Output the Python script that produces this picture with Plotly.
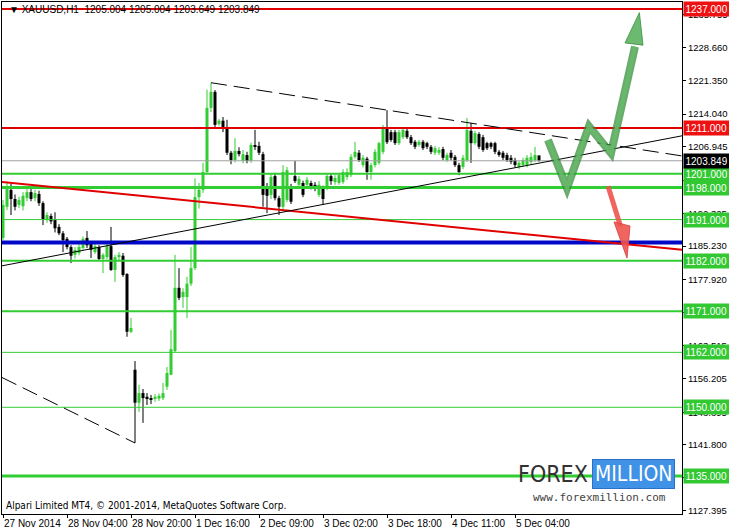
import plotly.graph_objects as go

# ---------------- data (XAUUSD H1) ----------------
opens = [1187.0, 1193.8, 1197.5, 1195.5, 1194.2, 1193.9, 1195.7, 1197.0, 1195.7, 1196.6,
         1194.6, 1190.9, 1191.8, 1190.9, 1189.4, 1188.0, 1186.8, 1185.0, 1183.3, 1183.7,
         1184.8, 1187.0, 1185.7, 1183.9, 1185.0, 1182.4, 1182.8, 1185.2, 1180.0, 1182.8,
         1183.1, 1179.1, 1166.5, 1158.2, 1151.0, 1153.1, 1152.3, 1152.0, 1151.8, 1151.9,
         1152.0, 1154.5, 1157.1, 1162.3, 1176.1, 1174.1, 1174.1, 1177.0, 1180.4, 1195.9,
         1197.5, 1201.4, 1215.4, 1218.9, 1211.9, 1212.6, 1211.0, 1205.6, 1204.0, 1206.0,
         1203.8, 1205.1, 1203.8, 1207.3, 1207.1, 1205.3, 1198.1, 1196.4, 1200.5, 1195.7,
         1193.8, 1195.3, 1198.1, 1200.5, 1198.6, 1199.0, 1198.6, 1199.0, 1198.6, 1196.4,
         1197.9, 1197.9, 1200.5, 1199.2, 1199.0, 1199.2, 1200.3, 1200.7, 1204.7, 1205.6,
         1202.9, 1204.3, 1201.4, 1202.9, 1203.4, 1205.8, 1210.8, 1210.1, 1210.1, 1207.7,
         1209.0, 1210.4, 1209.0, 1208.0, 1207.3, 1208.0, 1207.7, 1206.9, 1205.6, 1205.6,
         1206.4, 1204.0, 1205.6, 1204.7, 1202.9, 1202.5, 1204.0, 1210.4, 1207.7, 1209.7,
         1209.0, 1207.7, 1207.7, 1207.7, 1205.8, 1205.6, 1205.1, 1204.5, 1204.0, 1202.5,
         1202.9, 1202.9, 1203.6, 1204.0, 1205.004]
highs = [1195.3, 1199.0, 1198.8, 1196.5, 1196.0, 1197.0, 1197.8, 1197.8, 1197.5, 1197.3,
         1195.0, 1192.6, 1192.3, 1192.6, 1190.0, 1188.5, 1187.2, 1185.4, 1185.0, 1185.6,
         1187.3, 1188.5, 1186.1, 1185.8, 1185.4, 1183.7, 1186.0, 1189.4, 1183.3, 1183.9,
         1183.7, 1179.3, 1169.5, 1160.1, 1154.9, 1154.0, 1153.1, 1152.7, 1152.9, 1153.0,
         1155.3, 1158.8, 1166.9, 1183.3, 1180.4, 1176.0, 1178.5, 1185.0, 1200.0, 1199.0,
         1203.4, 1219.4, 1220.9, 1219.3, 1213.0, 1213.4, 1212.8, 1206.0, 1208.8, 1206.8,
         1206.2, 1205.8, 1207.8, 1210.6, 1208.0, 1205.8, 1199.0, 1201.0, 1201.2, 1196.2,
         1202.9, 1202.5, 1198.8, 1203.8, 1200.5, 1199.5, 1200.3, 1199.5, 1199.2, 1199.4,
         1198.4, 1201.0, 1201.0, 1200.7, 1201.2, 1202.0, 1202.2, 1205.3, 1208.0, 1206.2,
         1205.1, 1204.7, 1203.4, 1206.4, 1208.0, 1211.7, 1214.9, 1210.6, 1210.6, 1210.6,
         1211.0, 1210.8, 1209.5, 1208.4, 1208.4, 1208.4, 1208.0, 1207.3, 1207.1, 1206.8,
         1206.9, 1205.6, 1206.2, 1205.1, 1203.4, 1205.1, 1213.2, 1212.1, 1210.4, 1210.1,
         1209.5, 1208.0, 1208.0, 1208.0, 1206.2, 1206.0, 1205.6, 1205.1, 1204.5, 1203.8,
         1204.5, 1205.1, 1205.6, 1206.9, 1205.004]
lows = [1186.5, 1193.1, 1192.0, 1193.0, 1193.5, 1193.0, 1195.0, 1195.0, 1195.0, 1194.0,
        1189.8, 1190.3, 1190.0, 1188.2, 1187.6, 1183.9, 1184.5, 1181.5, 1182.5, 1183.2,
        1184.4, 1184.8, 1182.6, 1183.5, 1182.0, 1179.3, 1182.3, 1179.8, 1177.4, 1182.0,
        1178.5, 1165.4, 1166.2, 1142.2, 1149.0, 1146.6, 1150.5, 1150.7, 1151.2, 1151.4,
        1151.6, 1153.8, 1157.1, 1162.0, 1173.4, 1171.7, 1169.5, 1176.5, 1180.0, 1193.4,
        1196.8, 1201.0, 1214.5, 1211.2, 1211.5, 1210.1, 1205.1, 1203.1, 1203.5, 1204.8,
        1203.3, 1203.3, 1203.4, 1206.2, 1205.1, 1193.8, 1192.4, 1195.5, 1195.2, 1192.0,
        1193.3, 1194.8, 1194.4, 1199.0, 1198.0, 1195.9, 1198.1, 1197.6, 1197.2, 1195.9,
        1194.2, 1197.4, 1198.6, 1198.6, 1198.6, 1198.8, 1199.7, 1200.3, 1204.3, 1203.6,
        1202.4, 1199.7, 1199.7, 1202.4, 1203.0, 1205.3, 1207.5, 1208.0, 1207.3, 1207.3,
        1208.6, 1208.6, 1207.3, 1206.4, 1206.9, 1206.2, 1206.4, 1205.3, 1205.1, 1205.1,
        1204.0, 1203.6, 1204.0, 1202.5, 1200.7, 1202.0, 1203.6, 1203.4, 1207.3, 1206.4,
        1205.8, 1206.2, 1206.4, 1205.3, 1204.7, 1204.0, 1203.6, 1203.1, 1202.4, 1202.0,
        1202.5, 1202.4, 1203.1, 1203.6, 1203.649]
closes = [1194.2, 1197.9, 1195.5, 1193.8, 1195.3, 1196.2, 1197.0, 1195.5, 1196.8, 1194.6,
          1191.1, 1192.0, 1190.6, 1189.1, 1188.0, 1186.5, 1185.0, 1183.1, 1184.4, 1185.0,
          1186.8, 1185.4, 1184.4, 1185.2, 1182.4, 1183.3, 1185.2, 1180.0, 1182.8, 1183.3,
          1178.9, 1166.5, 1167.3, 1151.0, 1153.1, 1152.0, 1152.0, 1151.8, 1152.3, 1152.5,
          1153.1, 1157.5, 1162.7, 1176.1, 1173.9, 1175.2, 1177.0, 1180.4, 1195.9, 1197.5,
          1201.4, 1215.4, 1218.9, 1211.7, 1212.6, 1211.0, 1205.6, 1204.0, 1206.0, 1205.3,
          1205.3, 1203.8, 1207.3, 1206.9, 1205.6, 1196.4, 1196.2, 1200.3, 1195.7, 1193.8,
          1201.4, 1201.8, 1194.9, 1199.4, 1199.9, 1196.4, 1199.7, 1198.1, 1197.9, 1198.6,
          1195.5, 1200.5, 1199.4, 1200.1, 1200.7, 1201.4, 1201.4, 1204.7, 1205.8, 1204.0,
          1204.5, 1201.4, 1202.9, 1205.8, 1207.7, 1211.2, 1207.9, 1208.4, 1207.7, 1210.1,
          1210.6, 1209.0, 1207.7, 1206.9, 1208.0, 1206.6, 1206.9, 1205.8, 1206.6, 1206.2,
          1204.5, 1205.1, 1204.5, 1202.9, 1201.4, 1204.5, 1210.6, 1207.7, 1209.9, 1206.9,
          1206.2, 1206.6, 1206.9, 1205.8, 1205.1, 1204.5, 1204.0, 1203.6, 1202.9, 1203.4,
          1204.0, 1204.5, 1204.7, 1205.1, 1203.849]

time_tick_idx = [0, 16, 32, 48, 64, 80, 96, 112, 128]
time_tick_text = ["27 Nov 2014", "28 Nov 04:00", "28 Nov 20:00", "1 Dec 16:00", "2 Dec 09:00",
                  "3 Dec 02:00", "3 Dec 18:00", "4 Dec 11:00", "5 Dec 04:00"]

price_ticks = [1235.755, 1228.660, 1221.350, 1214.040, 1206.945, 1199.635, 1192.325, 1185.230,
               1177.920, 1170.610, 1163.515, 1156.205, 1148.895, 1141.800, 1134.705, 1127.395]

# horizontal levels
red_levels = [1237.0, 1211.0]
red_widths = [2, 2]
green_levels = [1201.0, 1198.0, 1191.0, 1182.0, 1171.0, 1162.0, 1150.0, 1135.0]
green_widths = [2, 3, 1, 2, 2, 1, 1, 3]
blue_level = 1186.0
bid_price = 1203.849

# trend lines: (bar index, price) endpoints
red_trend = [(-0.25, 1199.2), (169.75, 1184.4)]
black_trend = [(-0.25, 1180.9), (169.75, 1209.3)]
dash_upper = [(52.0, 1220.9), (169.75, 1204.9)]
dash_lower = [(-0.25, 1156.5), (33.0, 1142.2)]

# forecast arrows: (bar index, price)
green_path = [(136.25, 1208.4), (141.0, 1197.9), (146.5, 1211.4), (152.0, 1205.5), (158.0, 1228.8)]
green_head = [(155.5, 1229.6), (159.1, 1236.2), (160.0, 1229.1)]
red_path = [(151.25, 1198.3), (154.4, 1189.5)]
red_head = [(152.75, 1190.5), (156.0, 1182.6), (156.75, 1189.6)]

# ---------------- figure ----------------
BULL = "#32cd32"
BEAR = "#000000"
FONT = "Liberation Sans, Arial, sans-serif"
NARROW = "Liberation Sans Narrow, DejaVu Sans Condensed, Liberation Sans, sans-serif"

n = len(opens)
idx = list(range(n))
bases = [min(o, c) for o, c in zip(opens, closes)]
heights = [max(abs(c - o), 0.22) for o, c in zip(opens, closes)]
colors = [BULL if c >= o else BEAR for o, c in zip(opens, closes)]

fig = go.Figure()

for col in (BULL, BEAR):
    wx, wy = [], []
    for i in idx:
        if colors[i] == col:
            wx += [i, i, None]
            wy += [lows[i], highs[i], None]
    fig.add_trace(go.Scatter(x=wx, y=wy, mode="lines", line=dict(color=col, width=1),
                             hoverinfo="skip", showlegend=False))

fig.add_trace(go.Bar(x=idx, y=heights, base=bases, width=0.75,
                     marker=dict(color=colors, line=dict(width=0)),
                     hoverinfo="skip", showlegend=False))

shapes = []
shapes.append(dict(type="line", xref="paper", x0=0, x1=1, yref="y", y0=bid_price, y1=bid_price,
                   line=dict(color="#a0a0a0", width=1)))
for p, w in zip(green_levels, green_widths):
    shapes.append(dict(type="line", xref="paper", x0=0, x1=1, yref="y", y0=p, y1=p,
                       line=dict(color=BULL, width=w)))
for p, w in zip(red_levels, red_widths):
    shapes.append(dict(type="line", xref="paper", x0=0, x1=1, yref="y", y0=p, y1=p,
                       line=dict(color="#e00000", width=w)))
shapes.append(dict(type="line", xref="paper", x0=0, x1=1, yref="y", y0=blue_level, y1=blue_level,
                   line=dict(color="#0008c8", width=4)))


def seg(pts, color, width, dash="solid"):
    return dict(type="line", xref="x", yref="y", x0=pts[0][0], y0=pts[0][1],
                x1=pts[1][0], y1=pts[1][1], line=dict(color=color, width=width, dash=dash))


shapes.append(seg(red_trend, "#e00000", 2))
shapes.append(seg(black_trend, "#000000", 1))
shapes.append(seg(dash_upper, "#000000", 1, "16px,7px"))
shapes.append(seg(dash_lower, "#000000", 1, "16px,7px"))


def path(pts, closed=False):
    s = "M " + " L ".join(f"{x},{y}" for x, y in pts)
    return s + (" Z" if closed else "")


shapes.append(dict(type="path", xref="x", yref="y", path=path(green_path),
                   line=dict(color="rgba(56,142,60,0.75)", width=8)))
shapes.append(dict(type="path", xref="x", yref="y", path=path(green_path),
                   line=dict(color="rgba(102,187,106,0.85)", width=4)))
shapes.append(dict(type="path", xref="x", yref="y", path=path(green_head, True),
                   fillcolor="rgba(92,178,96,0.9)", line=dict(color="rgba(56,142,60,0.8)", width=1)))
shapes.append(dict(type="path", xref="x", yref="y", path=path(red_path),
                   line=dict(color="rgba(240,84,80,0.9)", width=5)))
shapes.append(dict(type="path", xref="x", yref="y", path=path(red_head, True),
                   fillcolor="rgba(240,84,80,0.9)", line=dict(color="rgba(220,70,70,0.9)", width=1)))

LBL = dict(xref="paper", x=1, xanchor="left", xshift=1, yref="y", showarrow=False,
           font=dict(color="white", size=10, family=FONT), borderpad=1.5, width=42, align="left")
annotations = []
for p in red_levels:
    annotations.append(dict(LBL, y=p, text=f"{p:.3f}", bgcolor="#ee1111"))
for p in green_levels:
    annotations.append(dict(LBL, y=p, text=f"{p:.3f}", bgcolor="#32c832"))
annotations.append(dict(LBL, y=bid_price, text=f"{bid_price:.3f}", bgcolor="#000000"))

# header
annotations.append(dict(xref="paper", yref="paper", x=0.008, y=0.986, xanchor="left", yanchor="middle",
                        text="▼ XAUUSD,H1  1205.004 1205.004 1203.649 1203.849", showarrow=False,
                        font=dict(color="black", size=10, family=FONT)))
# copyright
annotations.append(dict(xref="paper", yref="paper", x=0.003, y=0.016, xanchor="left", yanchor="middle",
                        text="Alpari Limited MT4, © 2001-2014, MetaQuotes Software Corp.", showarrow=False,
                        font=dict(color="black", size=10, family=NARROW)))
# logo
annotations.append(dict(xref="paper", yref="paper", x=0.864, y=0.078, xanchor="right", yanchor="middle",
                        text="FOREX", showarrow=False,
                        font=dict(color="#333333", size=23, family=NARROW)))
annotations.append(dict(xref="paper", yref="paper", x=0.868, y=0.078, xanchor="left", yanchor="middle",
                        text="MILLION", showarrow=False, bgcolor="#3f92e6", bordercolor="#2a6fc8",
                        borderwidth=1, borderpad=2,
                        font=dict(color="white", size=21, family=NARROW)))
annotations.append(dict(xref="paper", yref="paper", x=0.980, y=0.033, xanchor="right", yanchor="middle",
                        text="www.forexmillion.com", showarrow=False,
                        font=dict(color="#444444", size=11, family="DejaVu Sans Mono, monospace")))

fig.update_layout(
    width=729, height=531,
    margin=dict(l=2, r=47, t=2, b=17),
    paper_bgcolor="white", plot_bgcolor="white",
    showlegend=False, barmode="overlay",
    shapes=shapes, annotations=annotations,
    font=dict(family=FONT, size=10, color="black"),
    xaxis=dict(range=[-0.25, 169.75], tickmode="array", tickvals=time_tick_idx, ticktext=time_tick_text,
               ticks="outside", ticklen=3, tickcolor="black", ticklabelposition="outside right",
               tickangle=0, automargin=False,
               showgrid=False, zeroline=False, showline=True, linecolor="black", linewidth=1,
               mirror=True, tickfont=dict(size=10, family=FONT, color="black")),
    yaxis=dict(range=[1126.69, 1238.53], side="right", tickmode="array", tickvals=price_ticks,
               ticktext=[f"{t:.3f}" for t in price_ticks], ticks="outside", ticklen=3, tickcolor="black",
               automargin=False,
               showgrid=False, zeroline=False, showline=True, linecolor="black", linewidth=1,
               mirror=True, tickfont=dict(size=9.5, family=FONT, color="black")),
)

fig.write_html("out.html", config={"displayModeBar": False},
               post_script="document.body.style.margin='0';document.body.style.overflow='hidden';")
